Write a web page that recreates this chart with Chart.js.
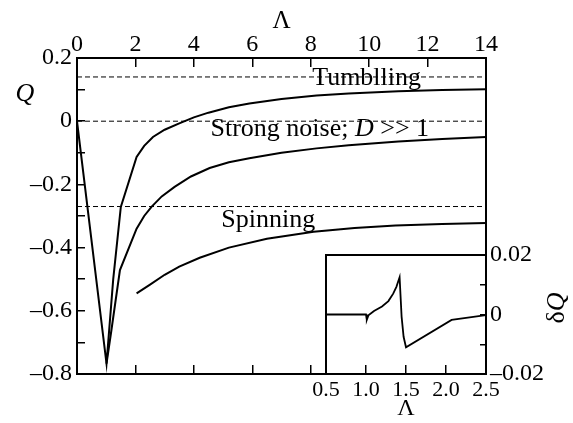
<!DOCTYPE html>
<html>
<head>
<meta charset="utf-8">
<script src="https://cdn.jsdelivr.net/npm/chart.js@4.4.1/dist/chart.umd.min.js"></script>
<style>
  body { margin: 0; background: #fff; }
  #wrap { position: relative; width: 573px; height: 423px; }
  #mainChart { position: absolute; left: 0; top: 0; }
  #insetChart { position: absolute; left: 290px; top: 230px; }
</style>
</head>
<body>
<div id="wrap">
  <canvas id="mainChart" width="573" height="423"></canvas>
  <canvas id="insetChart" width="283" height="193"></canvas>
</div>
<script>
// main panel: Q versus Lambda
const lambdaTumble = [0, 1.01, 1.24, 1.5, 2.04, 2.3, 2.6, 3.0, 3.5, 4.0, 4.5, 5.2, 5.9, 7.0, 8.2, 9.3, 11, 12.5, 14];
const qTumble = [0, -0.767, -0.5, -0.271, -0.113, -0.078, -0.05, -0.027, -0.007, 0.012, 0.027, 0.044, 0.056, 0.07, 0.081, 0.088, 0.095, 0.099, 0.101];

const lambdaNoise = [1.01, 1.18, 1.47, 2.04, 2.3, 2.55, 2.9, 3.34, 3.9, 4.54, 5.2, 5.9, 7.0, 8.2, 9.3, 11, 12.5, 14];
const qNoise = [-0.767, -0.66, -0.471, -0.34, -0.3, -0.271, -0.238, -0.208, -0.175, -0.148, -0.13, -0.117, -0.1, -0.086, -0.076, -0.064, -0.056, -0.05];

const lambdaSpin = [2.04, 2.5, 3.0, 3.5, 4.2, 5.2, 6.5, 8.1, 9.5, 10.9, 12.5, 14];
const qSpin = [-0.545, -0.517, -0.486, -0.46, -0.432, -0.4, -0.372, -0.35, -0.338, -0.33, -0.325, -0.322];

const refLevels = [0.14, 0, -0.27];
const regimeLabels = ["Tumblling", "Strong noise; ", "D", " >> 1", "Spinning"];

// inset: deltaQ versus Lambda
const lambdaInset = [0.5, 1.0, 1.01, 1.03, 1.1, 1.2, 1.28, 1.34, 1.38, 1.42, 1.445, 1.47, 1.5, 2.07, 2.5];
const dqInset = [0, 0, -0.0018, -0.0003, 0.0012, 0.0027, 0.0045, 0.007, 0.0093, 0.0125, -0.0007, -0.0075, -0.011, -0.0018, -0.0002];

const serif = "'Liberation Serif', 'Times New Roman', serif";
const toPts = (xs, ys) => xs.map((x, i) => ({ x: x, y: ys[i] }));
const fmt = (v) => (v < 0 ? "\u2013" : "") + Math.abs(v);

const curve = (pts) => ({
  data: pts, borderColor: "#000", borderWidth: 2, pointRadius: 0, fill: false, tension: 0
});
const dashed = (lvl) => ({
  data: [{ x: 0, y: lvl }, { x: 14, y: lvl }],
  borderColor: "#000", borderWidth: 1, borderDash: [5, 3], pointRadius: 0, fill: false
});
// tick marks pointing into the plot
const innerGrid = (len) => ({
  drawOnChartArea: false, tickLength: -len, color: "#000", tickColor: "#000", lineWidth: 1.5, tickWidth: 1.5
});

const textPlugin = {
  id: "mainText",
  afterDraw(chart) {
    const { ctx, scales: { x, y } } = chart;
    ctx.save();
    ctx.fillStyle = "#000";
    ctx.textBaseline = "alphabetic";
    ctx.textAlign = "left";
    ctx.font = "26px " + serif;
    ctx.fillText(regimeLabels[0], x.getPixelForValue(8.05), y.getPixelForValue(0.114));
    let px = x.getPixelForValue(4.57);
    const py = y.getPixelForValue(-0.048);
    ctx.fillText(regimeLabels[1], px, py);
    px += ctx.measureText(regimeLabels[1]).width;
    ctx.font = "italic 26px " + serif;
    ctx.fillText(regimeLabels[2], px, py);
    px += ctx.measureText(regimeLabels[2]).width;
    ctx.font = "26px " + serif;
    ctx.fillText(regimeLabels[3], px, py);
    ctx.fillText(regimeLabels[4], x.getPixelForValue(4.94), y.getPixelForValue(-0.336));
    ctx.font = "italic 26px " + serif;
    ctx.textAlign = "center";
    ctx.fillText("Q", 25, 101);
    ctx.restore();
  }
};

new Chart(document.getElementById("mainChart"), {
  type: "line",
  data: {
    datasets: [
      curve(toPts(lambdaTumble, qTumble)),
      curve(toPts(lambdaNoise, qNoise)),
      curve(toPts(lambdaSpin, qSpin)),
      ...refLevels.map(dashed)
    ]
  },
  options: {
    responsive: false,
    animation: false,
    layout: { padding: 0 },
    plugins: { legend: { display: false }, tooltip: { enabled: false } },
    scales: {
      x: {
        type: "linear", position: "top", min: 0, max: 14,
        ticks: { stepSize: 2, color: "#000", font: { family: serif, size: 24 }, padding: 8, maxRotation: 0 },
        grid: innerGrid(9),
        border: { color: "#000", width: 2 },
        title: { display: true, text: "\u039B", color: "#000", font: { family: serif, size: 25 }, padding: { top: 6 } },
        afterFit: (s) => { s.height = 58; }
      },
      xB: {
        type: "linear", position: "bottom", min: 0, max: 14,
        ticks: { stepSize: 2, color: "#000", autoSkip: false, callback: () => "" },
        grid: innerGrid(9),
        border: { color: "#000", width: 2 },
        afterFit: (s) => { s.height = 49; }
      },
      y: {
        type: "linear", position: "left", min: -0.8, max: 0.2,
        ticks: {
          stepSize: 0.1, autoSkip: false, color: "#000", padding: 13,
          font: { family: serif, size: 24 },
          callback: (v) => {
            const t = Math.round(v * 10);
            return t % 2 === 0 ? fmt(t / 10) : "";
          }
        },
        grid: innerGrid(8),
        border: { color: "#000", width: 2 },
        afterFit: (s) => { s.width = 77; }
      },
      yR: {
        type: "linear", position: "right", min: -0.8, max: 0.2,
        ticks: { display: false },
        grid: { drawOnChartArea: false, drawTicks: false },
        border: { color: "#000", width: 2 },
        afterFit: (s) => { s.width = 87; }
      }
    }
  },
  plugins: [textPlugin]
});

const insetPlugin = {
  id: "insetBox",
  beforeDraw(chart) {
    const { ctx, chartArea: a } = chart;
    ctx.save();
    ctx.fillStyle = "#fff";
    ctx.fillRect(a.left, a.top, a.right - a.left, a.bottom - a.top);
    ctx.restore();
  },
  afterDraw(chart) {
    const { ctx } = chart;
    ctx.save();
    ctx.translate(267, 78);
    ctx.rotate(-Math.PI / 2);
    ctx.fillStyle = "#000";
    ctx.textBaseline = "middle";
    ctx.font = "26px " + serif;
    const w1 = ctx.measureText("\u03B4").width;
    ctx.font = "italic 26px " + serif;
    const w2 = ctx.measureText("Q").width;
    ctx.textAlign = "left";
    ctx.font = "26px " + serif;
    ctx.fillText("\u03B4", -(w1 + w2) / 2, 0);
    ctx.font = "italic 26px " + serif;
    ctx.fillText("Q", -(w1 + w2) / 2 + w1, 0);
    ctx.restore();
  }
};

new Chart(document.getElementById("insetChart"), {
  type: "line",
  data: {
    datasets: [{
      data: toPts(lambdaInset, dqInset),
      borderColor: "#000", borderWidth: 1.8, pointRadius: 0, fill: false, tension: 0
    }]
  },
  options: {
    responsive: false,
    animation: false,
    layout: { padding: 0 },
    plugins: { legend: { display: false }, tooltip: { enabled: false } },
    scales: {
      x: {
        type: "linear", position: "bottom", min: 0.5, max: 2.5,
        ticks: {
          stepSize: 0.5, color: "#000", padding: 12, maxRotation: 0, autoSkip: false,
          font: { family: serif, size: 22 },
          callback: (v) => v.toFixed(1)
        },
        grid: innerGrid(9),
        border: { color: "#000", width: 2 },
        title: { display: true, text: "\u039B", color: "#000", font: { family: serif, size: 24 }, padding: { bottom: 0 } },
        afterFit: (s) => { s.height = 49; }
      },
      xT: {
        type: "linear", position: "top", min: 0.5, max: 2.5,
        ticks: { display: false },
        grid: { drawOnChartArea: false, drawTicks: false },
        border: { color: "#000", width: 2 },
        afterFit: (s) => { s.height = 25; }
      },
      y: {
        type: "linear", position: "right", min: -0.02, max: 0.02,
        ticks: {
          stepSize: 0.01, color: "#000", padding: 10, autoSkip: false,
          font: { family: serif, size: 24 },
          callback: (v) => {
            const t = Math.round(v * 100);
            return t % 2 === 0 ? fmt(t / 100) : "";
          }
        },
        grid: innerGrid(6),
        border: { color: "#000", width: 2 },
        afterFit: (s) => { s.width = 87; }
      },
      yL: {
        type: "linear", position: "left", min: -0.02, max: 0.02,
        ticks: { display: false },
        grid: { drawOnChartArea: false, drawTicks: false },
        border: { color: "#000", width: 2 },
        afterFit: (s) => { s.width = 36; }
      }
    }
  },
  plugins: [insetPlugin]
});
</script>
</body>
</html>
